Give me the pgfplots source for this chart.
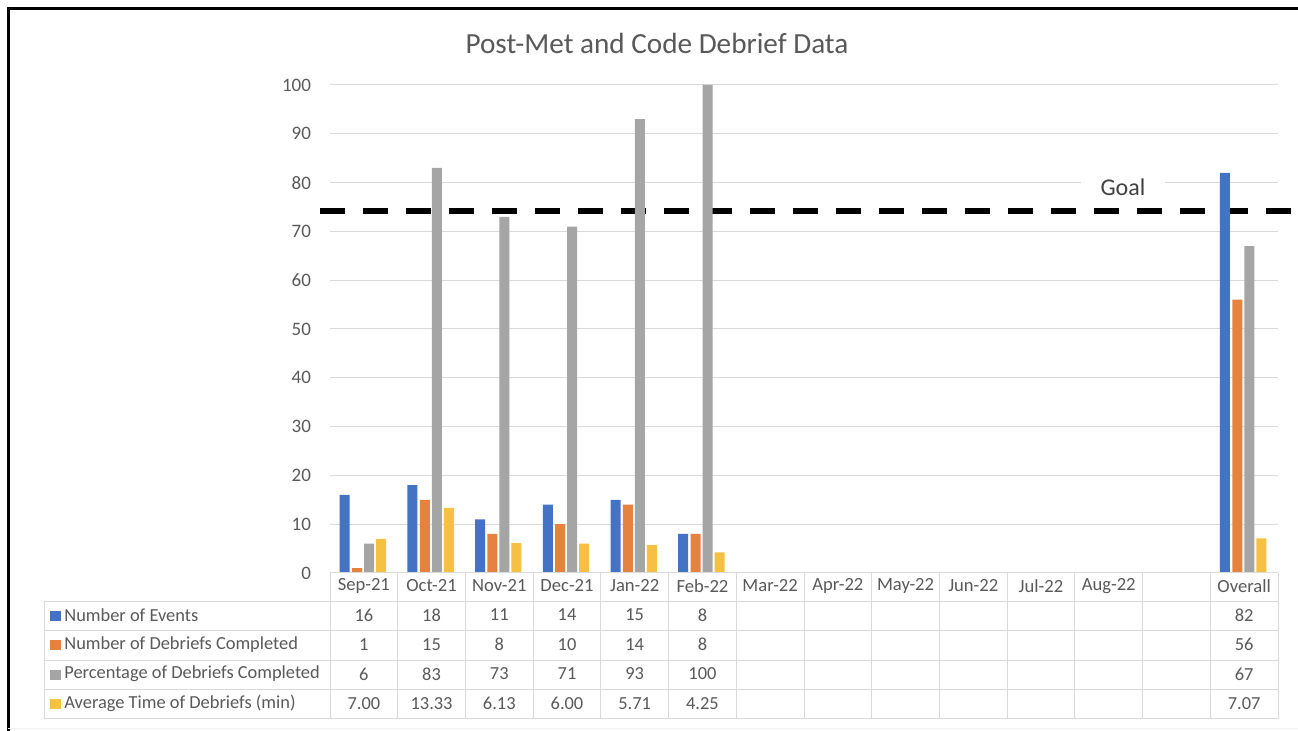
\documentclass[border=0pt]{standalone}
\usepackage{fontspec}
\setmainfont{Carlito}
\usepackage{pgfplots}
\pgfplotsset{compat=1.18}
\definecolor{cblue}{HTML}{4472C4}
\definecolor{corange}{HTML}{E5823F}
\definecolor{cgray}{HTML}{A5A5A5}
\definecolor{cyellow}{HTML}{F6C142}
\definecolor{gridgray}{HTML}{D9D9D9}
\definecolor{txtgray}{HTML}{595959}
\definecolor{goalgray}{HTML}{404040}

\begin{document}
\begin{tikzpicture}
\useasboundingbox (0,0) rectangle (649pt,-365.5pt);
\fill[white] (0,0) rectangle (649pt,-365.5pt);
% outer frame (top and left only visible)
\draw[black, line width=1.5pt] (4pt,-365.5pt) -- (4pt,-4.15pt) -- (649pt,-4.15pt);
\node[text=txtgray, font=\fontsize{14.6}{17}\selectfont] at (328.5pt,-21.5pt) {Post-Met and Code Debrief Data};

\begin{axis}[
  at={(165pt,-286.5pt)}, anchor=south west,
  scale only axis, width=474pt, height=244pt,
  xmin=-0.5, xmax=13.5, ymin=0, ymax=100,
  ytick={0,10,...,100}, xtick=\empty,
  ymajorgrids, grid style={draw=gridgray, line width=0.5pt},
  axis line style={draw=none}, major tick length=0pt,
  yticklabel style={font=\fontsize{9.5}{11}\selectfont, text=txtgray, xshift=-6pt},
  /pgf/number format/assume math mode=true,
  clip=false,
]
% goal line
\addplot[black, line width=3pt, dash pattern=on 12.5pt off 9pt, forget plot]
  coordinates {(-0.65,74.2) (13.9,74.2)};
\addplot[ybar, bar width=5pt, bar shift=-9.6pt, fill=cblue, draw=none]
  coordinates {(0,16)(1,18)(2,11)(3,14)(4,15)(5,8)(13,82)};
\addplot[ybar, bar width=5pt, bar shift=-3.4pt, fill=corange, draw=none]
  coordinates {(0,1)(1,15)(2,8)(3,10)(4,14)(5,8)(13,56)};
\addplot[ybar, bar width=5pt, bar shift=2.6pt, fill=cgray, draw=none]
  coordinates {(0,6)(1,83)(2,73)(3,71)(4,93)(5,100)(13,67)};
\addplot[ybar, bar width=5pt, bar shift=8.6pt, fill=cyellow, draw=none]
  coordinates {(0,7.00)(1,13.33)(2,6.13)(3,6.00)(4,5.71)(5,4.25)(13,7.07)};
\node[fill=white, inner xsep=10pt, inner ysep=1pt, text=goalgray,
      font=\fontsize{12}{14}\selectfont] at (axis cs:11.21,79.1) {Goal};
\end{axis}

% data table
\begin{scope}[x=0.5pt, y=-0.5pt]
  \draw[gridgray, line width=0.5pt] (330,573) -- (1278,573);
  \foreach \yy in {602,631,661,690,719}
    \draw[gridgray, line width=0.5pt] (44,\yy) -- (1278,\yy);
  \draw[gridgray, line width=0.5pt] (44,602) -- (44,719);
  \foreach \i in {0,...,14}
    \draw[gridgray, line width=0.5pt] ({330+67.714*\i},573) -- ({330+67.714*\i},719);
  \foreach \lab [count=\i from 0] in {Sep-21,Oct-21,Nov-21,Dec-21,Jan-22,Feb-22,Mar-22,Apr-22,May-22,Jun-22,Jul-22,Aug-22,{},Overall}
    \node[text=txtgray, font=\fontsize{9.3}{11}\selectfont] at ({330+67.714*(\i+0.5)},586) {\lab};
  % row labels with keys
  \foreach \c/\t/\yy in {cblue/Number of Events/615,
                          corange/Number of Debriefs Completed/644.5,
                          cgray/Percentage of Debriefs Completed/674,
                          cyellow/Average Time of Debriefs (min)/703.5} {
    \fill[\c] (49.5,\yy-4) rectangle (60.5,\yy+6);
    \node[anchor=west, inner sep=0pt, text=txtgray, font=\fontsize{9.2}{11}\selectfont] at (64,\yy) {\t};
  }
  % values
  \foreach \v [count=\i from 0] in {16,18,11,14,15,8}
    \node[text=txtgray, font=\fontsize{9.2}{11}\selectfont] at ({330+67.714*(\i+0.5)},615) {\v};
  \foreach \v [count=\i from 0] in {1,15,8,10,14,8}
    \node[text=txtgray, font=\fontsize{9.2}{11}\selectfont] at ({330+67.714*(\i+0.5)},644.5) {\v};
  \foreach \v [count=\i from 0] in {6,83,73,71,93,100}
    \node[text=txtgray, font=\fontsize{9.2}{11}\selectfont] at ({330+67.714*(\i+0.5)},674) {\v};
  \foreach \v [count=\i from 0] in {7.00,13.33,6.13,6.00,5.71,4.25}
    \node[text=txtgray, font=\fontsize{9.2}{11}\selectfont] at ({330+67.714*(\i+0.5)},703.5) {\v};
  \node[text=txtgray, font=\fontsize{9.2}{11}\selectfont] at (1244.1,615) {82};
  \node[text=txtgray, font=\fontsize{9.2}{11}\selectfont] at (1244.1,644.5) {56};
  \node[text=txtgray, font=\fontsize{9.2}{11}\selectfont] at (1244.1,674) {67};
  \node[text=txtgray, font=\fontsize{9.2}{11}\selectfont] at (1244.1,703.5) {7.07};
  \draw[gray!12, line width=0.5pt] (8,729) -- (1298,729);
\end{scope}
\end{tikzpicture}
\end{document}
